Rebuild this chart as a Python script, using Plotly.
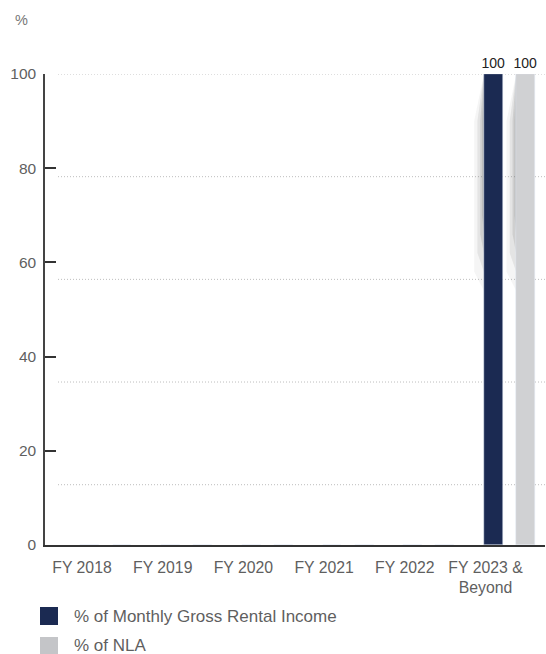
import plotly.graph_objects as go

categories = ["FY 2018", "FY 2019", "FY 2020", "FY 2021", "FY 2022", "FY 2023 &<br>Beyond"]
income_pct = [0, 0, 0, 0, 0, 100]
nla_pct = [0, 0, 0, 0, 0, 100]
y_ticks = [0, 20, 40, 60, 80, 100]
series_names = ["% of Monthly Gross Rental Income", "% of NLA"]

NAVY = "#1B2A52"
GRAY = "#D0D1D3"
FONT = "Liberation Sans"
TXT = "#5f5f5f"

W, H = 546, 654
L, R, T, B = 45, 1, 74, 109
pw, ph = W - L - R, H - T - B

def px_x(x):
    return (x - L) / pw

def px_y(y):
    return (H - B - y) / ph

xs = list(range(len(categories)))
bar_w = 0.232

def labels(vals):
    return [("" if v == 0 else str(v)) for v in vals]

fig = go.Figure()
for vals, name, col, off in [(income_pct, series_names[0], NAVY, -0.02), (nla_pct, series_names[1], GRAY, 0.38)]:
    fig.add_trace(go.Bar(
        x=xs, y=vals, name=name, marker_color=col,
        width=bar_w, offset=off, text=labels(vals), textposition="outside",
        constraintext="none",
        textfont=dict(family=FONT, size=14, color="#222"), cliponaxis=False,
        showlegend=False,
    ))

shapes = []
# dotted gridlines (offset from tick marks as in the original)
for g in [100 - 21.8 * i for i in range(5)]:
    shapes.append(dict(type="line", xref="paper", yref="y", x0=px_x(58), x1=1, y0=g, y1=g,
                       line=dict(color="#BDBDBD", width=1, dash="1px,2px"), layer="below"))

# soft shadows at left of tall bars
for vals, off in [(income_pct, -0.02), (nla_pct, 0.38)]:
    for i, v in enumerate(vals):
        if v > 0:
            x0 = xs[i] + off
            for dx, ybot, op in [(0.12, 0.58, 0.07), (0.08, 0.62, 0.12), (0.045, 0.66, 0.18), (0.02, 0.7, 0.26)]:
                shapes.append(dict(type="path", xref="x", yref="y", layer="below",
                                   path=f"M {x0},{v} L {x0 - dx},{v*0.9} L {x0 - dx},{v*ybot} L {x0},{v*(ybot-0.04)} Z",
                                   fillcolor="#6e6e6e", opacity=op, line=dict(width=0)))

# legend
legend_rows = [(series_names[0], NAVY, 607, 625), (series_names[1], "#C4C5C8", 637, 655)]
annotations = []
for name, col, y0, y1 in legend_rows:
    shapes.append(dict(type="rect", xref="paper", yref="paper", x0=px_x(40), x1=px_x(58),
                       y0=px_y(y0), y1=px_y(y1), fillcolor=col, line=dict(width=0)))
    annotations.append(dict(xref="paper", yref="paper", x=px_x(72), y=px_y(min((y0 + y1) / 2, 645)),
                            text=name, showarrow=False, xanchor="left", yanchor="middle",
                            font=dict(family=FONT, size=17, color=TXT)))

annotations.append(dict(xref="paper", yref="paper", x=px_x(21), y=px_y(20), text="%",
                        showarrow=False, xanchor="center", yanchor="middle",
                        font=dict(family=FONT, size=14.5, color="#777")))

fig.update_layout(
    width=W, height=H, margin=dict(l=L, r=R, t=T, b=B),
    paper_bgcolor="white", plot_bgcolor="white",
    barmode="overlay", bargap=0,
    font=dict(family=FONT, size=15, color=TXT),
    shapes=shapes, annotations=annotations,
    xaxis=dict(range=[-0.4585, 5.737], tickmode="array", tickvals=xs, ticktext=categories,
               showgrid=False, zeroline=False, showline=True, linecolor="#333", linewidth=1.5,
               ticks="", ticklabelstandoff=7,
               tickfont=dict(family=FONT, size=15.8, color=TXT), fixedrange=True),
    yaxis=dict(range=[0, 100], tickmode="array", tickvals=y_ticks, showgrid=False, zeroline=False,
               showline=True, linecolor="#444", linewidth=1.5, ticks="inside", ticklen=11,
               tickcolor="#333", tickwidth=1.5, ticklabelstandoff=4,
               tickfont=dict(family=FONT, size=15.5, color=TXT), fixedrange=True),
)

fig.write_html("out.html")
